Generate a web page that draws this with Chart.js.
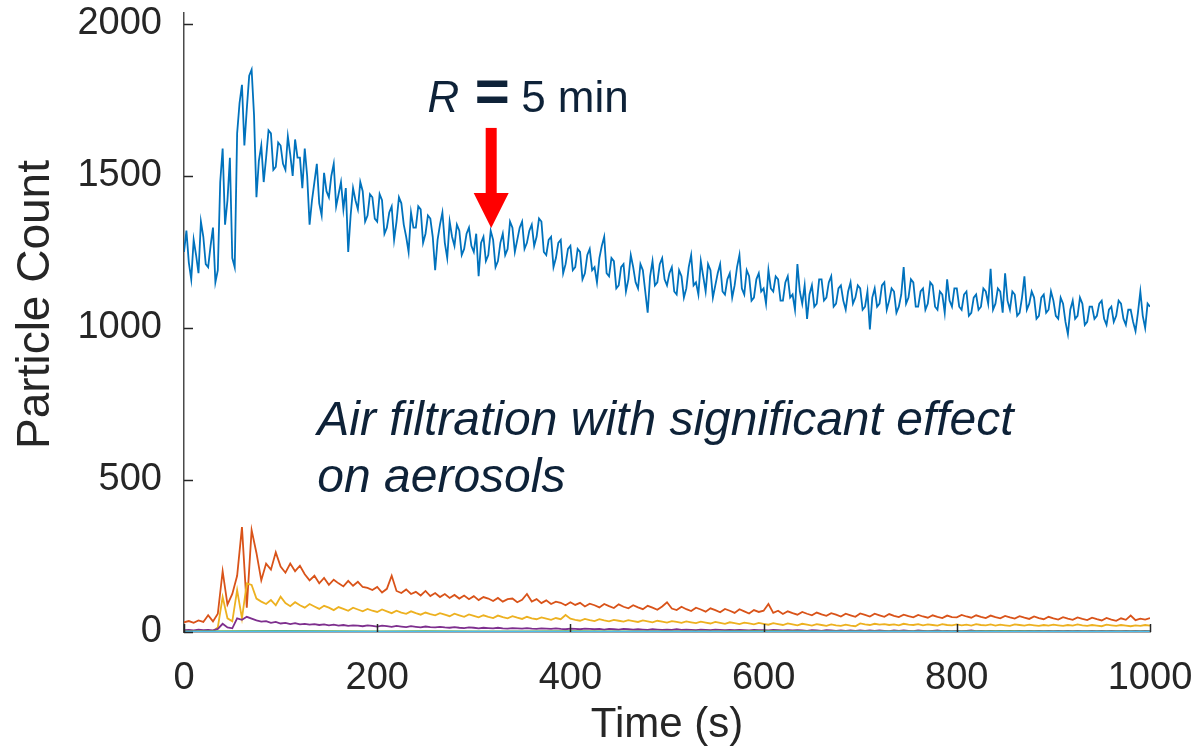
<!DOCTYPE html>
<html>
<head>
<meta charset="utf-8">
<title>Particle Count</title>
<script src="https://cdn.jsdelivr.net/npm/chart.js@4/dist/chart.umd.min.js"></script>
<style>
  html, body { margin: 0; padding: 0; background: #fff; }
  canvas { display: block; }
</style>
</head>
<body>
<canvas id="myChart" width="1198" height="754"></canvas>
<script>
// sampling times (s) for the size bins
const time = [
    0, 5, 10, 15, 20, 25, 30, 35, 40, 45, 50, 55, 60, 65, 70, 75, 80, 85, 90, 95,
    100, 105, 110, 115, 120, 125, 130, 135, 140, 145, 150, 155, 160, 165, 170, 175, 180, 185, 190, 195,
    200, 205, 210, 215, 220, 225, 230, 235, 240, 245, 250, 255, 260, 265, 270, 275, 280, 285, 290, 295,
    300, 305, 310, 315, 320, 325, 330, 335, 340, 345, 350, 355, 360, 365, 370, 375, 380, 385, 390, 395,
    400, 405, 410, 415, 420, 425, 430, 435, 440, 445, 450, 455, 460, 465, 470, 475, 480, 485, 490, 495,
    500, 505, 510, 515, 520, 525, 530, 535, 540, 545, 550, 555, 560, 565, 570, 575, 580, 585, 590, 595,
    600, 605, 610, 615, 620, 625, 630, 635, 640, 645, 650, 655, 660, 665, 670, 675, 680, 685, 690, 695,
    700, 705, 710, 715, 720, 725, 730, 735, 740, 745, 750, 755, 760, 765, 770, 775, 780, 785, 790, 795,
    800, 805, 810, 815, 820, 825, 830, 835, 840, 845, 850, 855, 860, 865, 870, 875, 880, 885, 890, 895,
    900, 905, 910, 915, 920, 925, 930, 935, 940, 945, 950, 955, 960, 965, 970, 975, 980, 985, 990, 995,
    1000
];

// the total count is logged twice as often
const blueTime = [
    0, 2.5, 5, 7.5, 10, 12.5, 15, 17.5, 20, 22.5, 25, 27.5, 30, 32.5, 35, 37.5, 40, 42.5, 45, 47.5,
    50, 52.5, 55, 57.5, 60, 62.5, 65, 67.5, 70, 72.5, 75, 77.5, 80, 82.5, 85, 87.5, 90, 92.5, 95, 97.5,
    100, 102.5, 105, 107.5, 110, 112.5, 115, 117.5, 120, 122.5, 125, 127.5, 130, 132.5, 135, 137.5, 140, 142.5, 145, 147.5,
    150, 152.5, 155, 157.5, 160, 162.5, 165, 167.5, 170, 172.5, 175, 177.5, 180, 182.5, 185, 187.5, 190, 192.5, 195, 197.5,
    200, 202.5, 205, 207.5, 210, 212.5, 215, 217.5, 220, 222.5, 225, 227.5, 230, 232.5, 235, 237.5, 240, 242.5, 245, 247.5,
    250, 252.5, 255, 257.5, 260, 262.5, 265, 267.5, 270, 272.5, 275, 277.5, 280, 282.5, 285, 287.5, 290, 292.5, 295, 297.5,
    300, 302.5, 305, 307.5, 310, 312.5, 315, 317.5, 320, 322.5, 325, 327.5, 330, 332.5, 335, 337.5, 340, 342.5, 345, 347.5,
    350, 352.5, 355, 357.5, 360, 362.5, 365, 367.5, 370, 372.5, 375, 377.5, 380, 382.5, 385, 387.5, 390, 392.5, 395, 397.5,
    400, 402.5, 405, 407.5, 410, 412.5, 415, 417.5, 420, 422.5, 425, 427.5, 430, 432.5, 435, 437.5, 440, 442.5, 445, 447.5,
    450, 452.5, 455, 457.5, 460, 462.5, 465, 467.5, 470, 472.5, 475, 477.5, 480, 482.5, 485, 487.5, 490, 492.5, 495, 497.5,
    500, 502.5, 505, 507.5, 510, 512.5, 515, 517.5, 520, 522.5, 525, 527.5, 530, 532.5, 535, 537.5, 540, 542.5, 545, 547.5,
    550, 552.5, 555, 557.5, 560, 562.5, 565, 567.5, 570, 572.5, 575, 577.5, 580, 582.5, 585, 587.5, 590, 592.5, 595, 597.5,
    600, 602.5, 605, 607.5, 610, 612.5, 615, 617.5, 620, 622.5, 625, 627.5, 630, 632.5, 635, 637.5, 640, 642.5, 645, 647.5,
    650, 652.5, 655, 657.5, 660, 662.5, 665, 667.5, 670, 672.5, 675, 677.5, 680, 682.5, 685, 687.5, 690, 692.5, 695, 697.5,
    700, 702.5, 705, 707.5, 710, 712.5, 715, 717.5, 720, 722.5, 725, 727.5, 730, 732.5, 735, 737.5, 740, 742.5, 745, 747.5,
    750, 752.5, 755, 757.5, 760, 762.5, 765, 767.5, 770, 772.5, 775, 777.5, 780, 782.5, 785, 787.5, 790, 792.5, 795, 797.5,
    800, 802.5, 805, 807.5, 810, 812.5, 815, 817.5, 820, 822.5, 825, 827.5, 830, 832.5, 835, 837.5, 840, 842.5, 845, 847.5,
    850, 852.5, 855, 857.5, 860, 862.5, 865, 867.5, 870, 872.5, 875, 877.5, 880, 882.5, 885, 887.5, 890, 892.5, 895, 897.5,
    900, 902.5, 905, 907.5, 910, 912.5, 915, 917.5, 920, 922.5, 925, 927.5, 930, 932.5, 935, 937.5, 940, 942.5, 945, 947.5,
    950, 952.5, 955, 957.5, 960, 962.5, 965, 967.5, 970, 972.5, 975, 977.5, 980, 982.5, 985, 987.5, 990, 992.5, 995, 997.5,
    1000
];

const blueCount = [
    1250, 1320, 1215, 1160, 1290, 1240, 1180, 1350, 1300, 1210, 1200, 1270, 1330, 1150, 1190, 1480, 1590, 1340, 1420, 1560,
    1230, 1200, 1640, 1740, 1800, 1600, 1720, 1830, 1850, 1700, 1430, 1550, 1600, 1480, 1560, 1650, 1640, 1520, 1530, 1610,
    1600, 1540, 1520, 1630, 1570, 1500, 1620, 1560, 1560, 1460, 1590, 1500, 1340, 1420, 1480, 1540, 1410, 1370, 1510, 1450,
    1430, 1500, 1540, 1400, 1440, 1480, 1390, 1460, 1250, 1370, 1460, 1420, 1390, 1480, 1450, 1350, 1370, 1440, 1430, 1360,
    1350, 1440, 1420, 1310, 1330, 1380, 1400, 1290, 1350, 1430, 1410, 1340, 1300, 1250, 1380, 1330, 1330, 1400, 1390, 1280,
    1310, 1370, 1360, 1300, 1190, 1290, 1340, 1380, 1280, 1230, 1350, 1300, 1270, 1340, 1320, 1240, 1260, 1310, 1330, 1270,
    1250, 1310, 1170, 1280, 1300, 1220, 1240, 1320, 1290, 1200, 1220, 1280, 1310, 1240, 1260, 1350, 1330, 1250, 1290, 1330,
    1350, 1260, 1280, 1320, 1340, 1270, 1300, 1360, 1350, 1250, 1240, 1290, 1300, 1200, 1230, 1280, 1290, 1180, 1210, 1260,
    1270, 1190, 1200, 1260, 1250, 1160, 1180, 1240, 1260, 1190, 1200, 1150, 1230, 1270, 1300, 1180, 1170, 1230, 1220, 1130,
    1140, 1200, 1210, 1120, 1160, 1240, 1200, 1150, 1130, 1210, 1190, 1120, 1050, 1170, 1220, 1140, 1150, 1210, 1230, 1160,
    1140, 1180, 1200, 1120, 1110, 1190, 1170, 1100, 1130, 1200, 1240, 1140, 1150, 1110, 1220, 1170, 1120, 1210, 1190, 1100,
    1140, 1180, 1210, 1120, 1110, 1160, 1180, 1100, 1140, 1200, 1240, 1130, 1110, 1190, 1170, 1090, 1100, 1160, 1180, 1120,
    1130, 1080, 1190, 1130, 1120, 1170, 1160, 1090, 1090, 1150, 1170, 1100, 1110, 1060, 1210, 1120, 1080, 1140, 1030, 1110,
    1140, 1070, 1080, 1160, 1160, 1090, 1100, 1150, 1170, 1070, 1080, 1130, 1140, 1090, 1060, 1120, 1150, 1080, 1100, 1140,
    1130, 1060, 1070, 1120, 995, 1100, 1130, 1070, 1080, 1140, 1150, 1060, 1090, 1130, 1120, 1050, 1070, 1110, 1200, 1080,
    1100, 1160, 1150, 1070, 1070, 1120, 1130, 1060, 1080, 1150, 1140, 1070, 1060, 1120, 1110, 1050, 1160, 1090, 1070, 1130,
    1130, 1070, 1060, 1110, 1120, 1040, 1050, 1100, 1110, 1060, 1070, 1130, 1120, 1080, 1195, 1060, 1080, 1130, 1120, 1050,
    1180, 1090, 1060, 1120, 1110, 1040, 1050, 1100, 1170, 1060, 1080, 1120, 1100, 1030, 1040, 1100, 1110, 1050, 1060, 1120,
    1090, 1040, 1030, 1100, 1080, 1020, 980, 1060, 1090, 1030, 1040, 1100, 1080, 1010, 1020, 1070, 1070, 1030, 1040, 1080,
    1090, 1030, 1010, 1060, 1070, 1020, 1040, 1090, 1080, 1030, 1010, 1060, 1060, 1020, 990, 1050, 1120, 1040, 1000, 1080,
    1070
];

const orangeCount = [
    32, 36, 30, 38, 33, 55, 35, 60, 200, 90, 125, 185, 345, 80, 335, 260, 170, 225, 205, 262,
    215, 195, 225, 200, 218, 190, 170, 185, 160, 178, 155, 172, 160, 150, 168, 152, 165, 148, 145, 138,
    148, 130, 142, 185, 135, 128, 140, 125, 132, 120, 135, 118, 128, 115, 125, 112, 122, 110, 120, 108,
    118, 105, 115, 110, 102, 112, 100, 108, 110, 98, 106, 125, 100, 108, 95, 104, 92, 100, 96, 88,
    98, 89, 96, 84, 93, 88, 81, 92, 85, 79, 91, 83, 78, 88, 81, 75, 86, 80, 73, 84,
    98, 77, 72, 83, 75, 69, 80, 74, 67, 78, 72, 65, 76, 70, 63, 75, 68, 61, 72, 66,
    70, 92, 63, 70, 59, 68, 62, 57, 66, 60, 55, 64, 58, 53, 62, 57, 51, 60, 55, 50,
    61, 56, 51, 60, 55, 50, 59, 53, 49, 57, 52, 48, 56, 51, 47, 55, 50, 46, 54, 49,
    48, 56, 51, 47, 55, 50, 46, 54, 49, 45, 53, 48, 44, 52, 47, 43, 51, 46, 42, 50,
    45, 41, 49, 44, 40, 48, 43, 39, 47, 42, 38, 46, 41, 37, 45, 40, 54, 39, 44, 41,
    46
];

const yellowCount = [
    3, 2, 4, 3, 2, 4, 3, 15, 115, 45, 35, 138, 45, 160, 155, 110, 100, 92, 105, 88,
    116, 95, 85, 98, 88, 80, 92, 84, 76, 86, 80, 72, 82, 76, 70, 80, 74, 68, 76, 70,
    66, 74, 68, 62, 70, 64, 60, 68, 62, 57, 64, 59, 55, 62, 57, 52, 60, 55, 50, 58,
    53, 48, 55, 50, 46, 54, 49, 45, 52, 47, 43, 50, 45, 42, 48, 44, 40, 46, 42, 56,
    44, 40, 37, 43, 39, 36, 42, 38, 35, 40, 37, 34, 39, 36, 33, 38, 35, 32, 37, 34,
    31, 36, 33, 30, 35, 32, 29, 34, 31, 28, 33, 30, 27, 32, 29, 26, 31, 28, 25, 30,
    27, 24, 29, 26, 23, 28, 25, 22, 27, 24, 21, 26, 23, 20, 25, 22, 20, 24, 21, 19,
    28, 25, 23, 27, 24, 26, 23, 25, 22, 27, 24, 23, 26, 22, 25, 23, 21, 26, 23, 22,
    25, 22, 24, 21, 26, 23, 22, 25, 21, 24, 22, 20, 25, 23, 21, 24, 22, 20, 23, 21,
    24, 22, 20, 23, 21, 25, 22, 20, 23, 21, 19, 24, 22, 20, 23, 21, 19, 22, 20, 23,
    21
];

const purpleCount = [
    6, 7, 5, 8, 6, 7, 5, 10, 27, 15, 12, 45, 40, 50, 44, 38, 34, 36, 30, 33,
    28, 30, 26, 29, 25, 27, 24, 26, 23, 25, 22, 24, 21, 23, 20, 22, 21, 19, 22, 20,
    18, 21, 19, 17, 20, 18, 16, 19, 17, 15, 18, 16, 15, 17, 15, 14, 16, 14, 13, 15,
    14, 12, 14, 13, 12, 14, 12, 11, 13, 12, 11, 13, 11, 10, 12, 11, 10, 12, 10, 9,
    11, 10, 9, 11, 10, 9, 10, 8, 10, 9, 8, 10, 9, 8, 9, 8, 7, 9, 8, 7,
    8, 7, 9, 7, 8, 7, 6, 8, 7, 6, 8, 7, 6, 7, 6, 7, 6, 5, 7, 6,
    6, 5, 7, 6, 5, 6, 5, 6, 5, 4, 6, 5, 4, 6, 5, 4, 5, 4, 5, 4,
    5, 4, 5, 4, 5, 4, 3, 5, 4, 5, 4, 3, 5, 4, 3, 4, 5, 3, 4, 3,
    4, 3, 4, 5, 3, 4, 3, 4, 3, 4, 3, 4, 3, 4, 3, 4, 3, 4, 3, 4,
    3, 4, 3, 4, 3, 4, 3, 3, 4, 3, 4, 3, 4, 3, 3, 4, 3, 4, 3, 4,
    3
];

// the two smallest size bins stay close to zero, sampled coarser
const coarseTime = [0, 50, 100, 150, 200, 250, 300, 350, 400, 450, 500, 550, 600, 650, 700, 750, 800, 850, 900, 950, 1000];
const greenCount = [2, 3, 4, 3, 2, 3, 2, 2, 3, 2, 2, 2, 3, 2, 2, 2, 2, 3, 2, 2, 2];
const cyanCount = [1, 1, 2, 1, 1, 1, 1, 1, 1, 1, 1, 1, 1, 1, 1, 1, 1, 1, 1, 1, 1];

const xTicks = [0, 200, 400, 600, 800, 1000];
const yTicks = [0, 500, 1000, 1500, 2000];

const fontFamily = '"Liberation Sans", Arial, Helvetica, sans-serif';
const textColor = '#262626';
const noteColor = '#0e2238';

function puntos(xs, ys) {
    return ys.map((v, i) => ({ x: xs[i], y: v }));
}

function serie(xs, ys, color, order) {
    return {
        data: puntos(xs, ys),
        borderColor: color,
        borderWidth: 1.8,
        pointRadius: 0,
        tension: 0,
        order: order
    };
}

// keep the plot box fixed: no extra room for the outer tick labels
function sinRelleno(scale) {
    scale.paddingTop = 0;
    scale.paddingBottom = 0;
    scale.paddingLeft = 0;
    scale.paddingRight = 0;
}

// inward ticks, red arrow and the text notes
const notasPlugin = {
    id: 'notas',
    afterDatasetsDraw(chart) {
        const { ctx, chartArea, scales: { x, y } } = chart;
        ctx.save();

        ctx.strokeStyle = textColor;
        ctx.lineWidth = 1.5;
        yTicks.forEach(v => {
            const py = Math.round(y.getPixelForValue(v)) + 0.5;
            ctx.beginPath();
            ctx.moveTo(chartArea.left, py);
            ctx.lineTo(chartArea.left + 9, py);
            ctx.stroke();
        });
        xTicks.forEach(v => {
            const px = Math.round(x.getPixelForValue(v)) + 0.5;
            ctx.beginPath();
            ctx.moveTo(px, chartArea.bottom);
            ctx.lineTo(px, chartArea.bottom - 8);
            ctx.stroke();
        });

        // arrow pointing at the R = 5 min moment
        const ax = x.getPixelForValue(318);
        const yTop = y.getPixelForValue(1658);
        const yBase = y.getPixelForValue(1444);
        const yTip = y.getPixelForValue(1329);
        ctx.fillStyle = '#ff0000';
        ctx.fillRect(ax - 5.5, yTop, 11, yBase - yTop + 1);
        ctx.beginPath();
        ctx.moveTo(ax - 17.5, yBase);
        ctx.lineTo(ax + 17.5, yBase);
        ctx.lineTo(ax, yTip);
        ctx.closePath();
        ctx.fill();

        ctx.fillStyle = noteColor;
        ctx.textBaseline = 'alphabetic';
        ctx.textAlign = 'left';
        const baseR = y.getPixelForValue(1711);
        ctx.font = 'italic 44px ' + fontFamily;
        ctx.fillText('R', x.getPixelForValue(252), baseR);
        ctx.font = 'bold 60px ' + fontFamily;
        ctx.fillText('=', x.getPixelForValue(301), baseR - 1);
        ctx.font = '44px ' + fontFamily;
        ctx.fillText('5 min', x.getPixelForValue(349), baseR);

        ctx.font = 'italic 48px ' + fontFamily;
        ctx.fillText('Air filtration with significant effect', x.getPixelForValue(138), y.getPixelForValue(648));
        ctx.fillText('on aerosols', x.getPixelForValue(138), y.getPixelForValue(461));

        ctx.restore();
    },
    afterDraw(chart) {
        const { ctx, chartArea } = chart;
        ctx.save();
        ctx.translate(36, (chartArea.top + chartArea.bottom) / 2 - 18);
        ctx.rotate(-Math.PI / 2);
        ctx.font = '46px ' + fontFamily;
        ctx.fillStyle = textColor;
        ctx.textAlign = 'center';
        ctx.textBaseline = 'middle';
        ctx.fillText('Particle Count', 0, 0);
        ctx.restore();
    }
};

const ctx = document.getElementById('myChart').getContext('2d');

new Chart(ctx, {
    type: 'line',
    data: {
        datasets: [
            serie(blueTime, blueCount, '#0072BD', 5),
            serie(time, orangeCount, '#D95319', 4),
            serie(time, yellowCount, '#EDB120', 3),
            serie(time, purpleCount, '#7E2F8E', 2),
            serie(coarseTime, greenCount, '#77AC30', 1),
            serie(coarseTime, cyanCount, '#4DBEEE', 0)
        ]
    },
    options: {
        responsive: false,
        animation: false,
        devicePixelRatio: 1,
        layout: {
            padding: { top: 13, right: 48, bottom: 0, left: 0 }
        },
        plugins: {
            legend: { display: false },
            tooltip: { enabled: false }
        },
        scales: {
            x: {
                type: 'linear',
                min: 0,
                max: 1000,
                afterBuildTicks: scale => { scale.ticks = xTicks.map(v => ({ value: v })); },
                afterFit: scale => { scale.height = 122; sinRelleno(scale); },
                grid: { display: false, drawTicks: false },
                border: { display: true, color: '#4a4a4a', width: 1.5 },
                ticks: {
                    font: { family: fontFamily, size: 38 },
                    color: textColor,
                    padding: 24,
                    maxRotation: 0,
                    autoSkip: false,
                    callback: v => String(v)
                },
                title: {
                    display: true,
                    text: 'Time (s)',
                    font: { family: fontFamily, size: 42 },
                    color: textColor,
                    padding: { top: 0, bottom: 3 }
                }
            },
            y: {
                type: 'linear',
                min: 0,
                max: 2036,
                afterBuildTicks: scale => { scale.ticks = yTicks.map(v => ({ value: v })); },
                afterFit: scale => { scale.width = 184; sinRelleno(scale); },
                grid: { display: false, drawTicks: false },
                border: { display: true, color: '#4a4a4a', width: 1.5 },
                ticks: {
                    font: { family: fontFamily, size: 38 },
                    color: textColor,
                    padding: 22,
                    callback: v => String(v)
                }
            }
        }
    },
    plugins: [notasPlugin]
});
</script>
</body>
</html>
